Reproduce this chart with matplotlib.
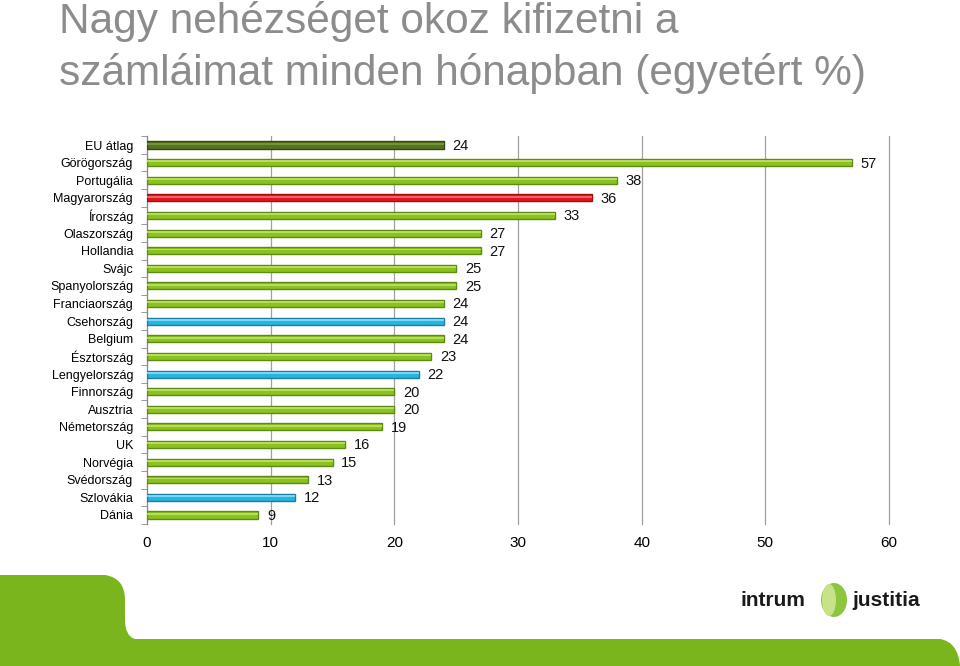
import matplotlib.pyplot as plt
import matplotlib.patches as mpatches
from matplotlib.path import Path
import numpy as np

plt.rcParams['font.family'] = ['Liberation Sans', 'DejaVu Sans']

countries = ['EU átlag', 'Görögország', 'Portugália', 'Magyarország', 'Írország',
             'Olaszország', 'Hollandia', 'Svájc', 'Spanyolország', 'Franciaország',
             'Csehország', 'Belgium', 'Észtország', 'Lengyelország', 'Finnország',
             'Ausztria', 'Németország', 'UK', 'Norvégia', 'Svédország', 'Szlovákia', 'Dánia']
values = [24, 57, 38, 36, 33, 27, 27, 25, 25, 24, 24, 24, 23, 22, 20, 20, 19, 16, 15, 13, 12, 9]
groups = ['eu', 'g', 'g', 'hu', 'g', 'g', 'g', 'g', 'g', 'g', 'b', 'g', 'g', 'b',
          'g', 'g', 'g', 'g', 'g', 'g', 'b', 'g']
x_ticks = [0, 10, 20, 30, 40, 50, 60]

fill = {'g': '#8cc21e', 'eu': '#54741c', 'hu': '#e3161f', 'b': '#28b4e0'}
edge = {'g': '#5d8a12', 'eu': '#34490f', 'hu': '#a30d12', 'b': '#1a7fa3'}
light = {'g': '#c4e46a', 'eu': '#7f9a45', 'hu': '#f2777b', 'b': '#8fe0f7'}

fig = plt.figure(figsize=(9.6, 6.66), dpi=100)
fig.patch.set_facecolor('white')

# green band at the bottom
W, H = 960, 666
def fx(px):
    return px / W
def fy(py):
    return 1 - py / H
verts = [(fx(0), fy(575)), (fx(105), fy(575)),
         (fx(125), fy(578)), (fx(125), fy(600)),
         (fx(125), fy(620)), (fx(125), fy(636)),
         (fx(135), fy(639)), (fx(940), fy(639)),
         (fx(958), fy(642)), (fx(960), fy(666)),
         (fx(0), fy(666)), (fx(0), fy(575))]
codes = [Path.MOVETO, Path.LINETO, Path.CURVE3, Path.CURVE3, Path.LINETO,
         Path.CURVE3, Path.CURVE3, Path.LINETO, Path.CURVE3, Path.CURVE3,
         Path.LINETO, Path.CLOSEPOLY]
band = mpatches.PathPatch(Path(verts, codes), transform=fig.transFigure,
                          facecolor='#7ab51d', edgecolor='none', zorder=0)
fig.patches.append(band)

# logo
fig.text(fx(740), fy(601), 'intrum', fontsize=15, fontweight='bold', color='#1a1a1a',
         family=['Liberation Sans Narrow', 'Liberation Sans'], va='center', ha='left')
fig.text(fx(852), fy(601), 'justitia', fontsize=15, fontweight='bold', color='#1a1a1a',
         family=['Liberation Sans Narrow', 'Liberation Sans'], va='center', ha='left')
logo = mpatches.Ellipse((fx(834), fy(600)), fx(26), 34 / H, transform=fig.transFigure,
                        facecolor='#8cc63f', edgecolor='none')
fig.patches.append(logo)
logo2 = mpatches.Ellipse((fx(829), fy(600)), fx(14), 32 / H, transform=fig.transFigure,
                         facecolor='#c8e28a', edgecolor='none')
fig.patches.append(logo2)

# title
fig.text(fx(59), fy(21), 'Nagy nehézséget okoz kifizetni a', fontsize=30.5, color='#8c8c8c',
         va='center', ha='left')
fig.text(fx(59), fy(73), 'számláimat minden hónapban (egyetért %)', fontsize=30.5,
         color='#8c8c8c', va='center', ha='left')

ax = fig.add_axes([147 / W, 1 - 523.8 / H, (889 - 147) / W, (523.8 - 136.2) / H])
y = np.arange(len(countries))
cols = [fill[g] for g in groups]
ecols = [edge[g] for g in groups]
lcols = [light[g] for g in groups]
ax.barh(y, values, height=0.4, color=cols, edgecolor=ecols, linewidth=1.0, zorder=3)
ax.barh(y - 0.07, values, height=0.11, color=lcols, edgecolor='none', zorder=4, alpha=0.8)

for yi, v in zip(y, values):
    ax.text(v + 0.7, yi + 0.05, str(v), va='center', ha='left', fontsize=10.5, color='#111111')

ax.set_xlim(0, 60)
ax.set_ylim(len(countries) - 0.5, -0.5)
ax.set_xticks(x_ticks)
ax.set_xticklabels([str(t) for t in x_ticks], fontsize=11)
ax.set_yticks(y)
ax.set_yticklabels(countries, fontsize=9)
ax.tick_params(axis='y', length=0, pad=10)
ax.tick_params(axis='x', length=0, pad=9)
ax.set_yticks(np.arange(-0.5, len(countries), 1), minor=True)
ax.tick_params(axis='y', which='minor', length=4, color='#888888', direction='out')
ax.grid(axis='x', color='#a0a0a0', linewidth=0.9, zorder=0)
for gl in ax.xaxis.get_gridlines():
    gl.set_clip_on(False)
for s in ['top', 'right', 'bottom']:
    ax.spines[s].set_visible(False)
ax.spines['left'].set_color('#888888')
ax.set_facecolor('none')

fig.savefig('out.png', dpi=100)
